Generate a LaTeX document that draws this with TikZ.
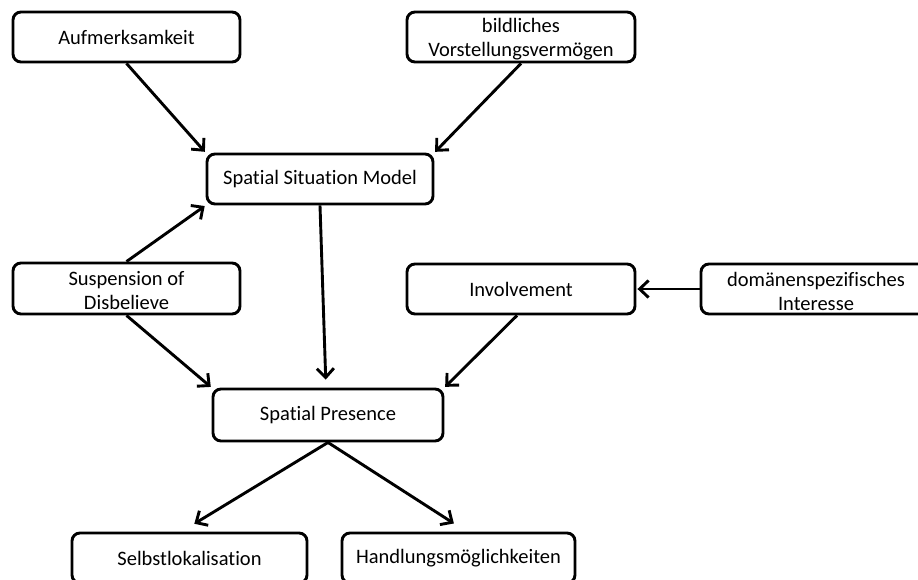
\documentclass[tikz,border=0pt]{standalone}
\usepackage{fontspec}
\setmainfont[Ligatures=NoCommon]{Carlito}
\usetikzlibrary{arrows.meta}
\newcommand{\topstrut}{\rule{0pt}{18.5pt}}
\begin{document}
\begin{tikzpicture}[x=1pt,y=-1pt,
  box/.style={draw=black, line width=2.9pt, rounded corners=8pt, fill=white,
    inner sep=0pt, align=center, minimum height=50pt,
    font=\fontsize{20.5}{24}\selectfont},
  conn/.style={line width=2.9pt, -{Straight Barb[length=9pt,width=17pt]}}]
\useasboundingbox (0,0) rectangle (918,579);
\clip (0,0) rectangle (918,579);
\node[box, minimum width=227pt] (A) at (126.5,37) {Aufmerksamkeit};
\node[box, minimum width=228pt] (B) at (521,37) {\topstrut bildliches\\Vorstellungsvermögen};
\node[box, minimum width=226pt] (SSM) at (320,179) {Spatial Situation Model};
\node[box, minimum width=227pt, minimum height=51pt] (SoD) at (126.5,288.5) {\topstrut Suspension of\\Disbelieve};
\node[box, minimum width=228pt] (Inv) at (521,289) {Involvement};
\node[box, minimum width=230pt] (Dom) at (816,289) {\topstrut domänenspezifisches\\Interesse};
\node[box, minimum width=230pt, minimum height=52pt] (SP) at (328,415) {Spatial Presence};
\node[box, minimum width=235pt] (Sel) at (189.5,558) {Selbstlokalisation};
\node[box, minimum width=233pt] (Hand) at (458.5,558) {Handlungsmöglichkeiten};

\draw[conn, shorten >=1pt] (A.south) -- (SSM.north west);
\draw[conn, shorten >=1pt] (B.south) -- (SSM.north east);
\draw[conn, shorten >=1pt] (SoD.north) -- (SSM.south west);
\draw[conn, shorten >=8pt] (SSM.south) -- ([xshift=-2pt]SP.north);
\draw[conn, shorten >=1pt] (SoD.south) -- (SP.north west);
\draw[conn, shorten >=1pt] ([xshift=-4pt]Inv.south) -- (SP.north east);
\draw[conn, shorten >=1pt] (Dom.west) -- (Inv.east);
\draw[conn, shorten >=15pt] (SP.south) -- ([xshift=-8pt]Sel.north);
\draw[conn, shorten >=15pt] (SP.south) -- ([xshift=8pt]Hand.north);
\end{tikzpicture}
\end{document}
